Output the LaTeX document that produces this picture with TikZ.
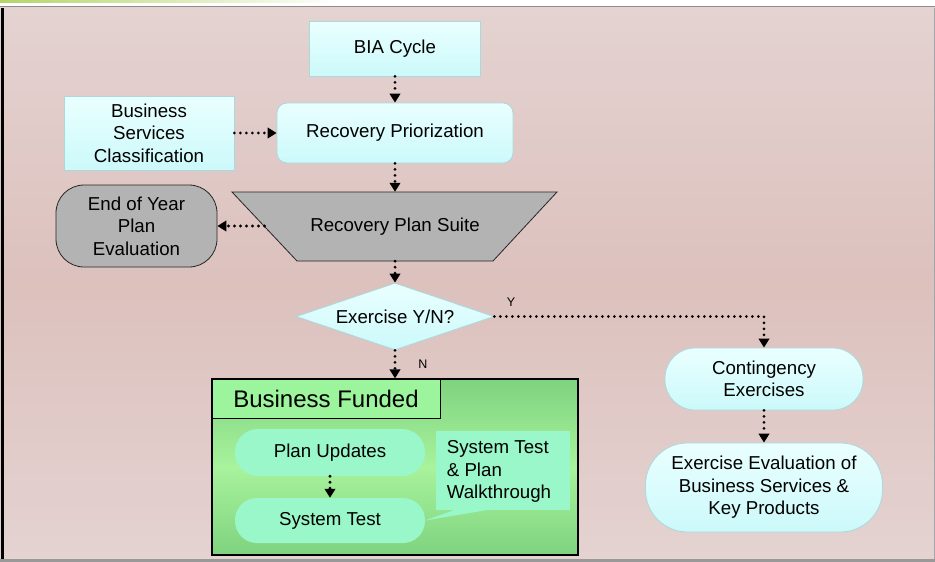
\documentclass[tikz,border=0pt]{standalone}
\usepackage{fontspec}
\setmainfont{Liberation Sans}
\usetikzlibrary{arrows.meta,shapes.geometric,calc}
\definecolor{pinkA}{HTML}{E4D3D1}
\definecolor{pinkB}{HTML}{DCC1BD}
\definecolor{cyantop}{HTML}{EAFFFF}
\definecolor{cyanbot}{HTML}{CCF9FA}
\definecolor{cyanedge}{HTML}{A9D9DD}
\definecolor{grayfill}{HTML}{B3B3B3}
\definecolor{greenA}{HTML}{7FD27F}
\definecolor{greenB}{HTML}{A8F39C}
\definecolor{greenH}{HTML}{9CF59C}
\definecolor{mint}{HTML}{9AF7CA}
\definecolor{topgreen}{HTML}{B5D56A}
\begin{document}
\begin{tikzpicture}[x=1pt,y=-1pt,
  txt/.style={font=\fontsize{18.7}{22.5}\selectfont, align=center, inner sep=0pt},
  small/.style={font=\fontsize{12.5}{14}\selectfont, inner sep=0pt},
  cyanbox/.style={txt, draw=cyanedge, line width=0.8pt, top color=cyantop, bottom color=cyanbot},
  graybox/.style={txt, draw=black!85, line width=0.8pt, fill=grayfill},
  mintbox/.style={txt, fill=mint},
  dotarr/.style={draw=black, line width=3.1pt, dash pattern=on 0pt off 6pt, line cap=round,
    -{Triangle[width=10.5pt,length=9pt]}}
]
\useasboundingbox (0,0) rectangle (935,562);
% frame
\fill[white] (0,0) rectangle (935,562);
\shade[left color=topgreen, right color=white] (0,0) rectangle (340,2.5);
\fill[black!45] (0,6) rectangle (935,7.5);
\shade[top color=pinkA, bottom color=pinkA, middle color=pinkB] (0,7.5) rectangle (935,559);
\fill[black!40] (0,559) rectangle (935,562);
\fill[black] (1,7.5) rectangle (4,559);
\fill[black!35] (933.5,7.5) rectangle (935,559);

% nodes
\node[cyanbox, minimum width=171pt, minimum height=55pt] (bia) at (395,48.5) {BIA Cycle};
\node[cyanbox, minimum width=170pt, minimum height=74pt] (bsc) at (149,133) {Business\\Services\\Classification};
\node[cyanbox, rounded corners=10pt, minimum width=236pt, minimum height=60pt] (rp) at (395,133) {Recovery Priorization};

\draw[black!85, line width=0.8pt, fill=grayfill] (232,192) -- (557,192) -- (493,261) -- (297,261) -- cycle;
\node[txt, minimum height=69pt] (rps) at (395,226.5) {Recovery Plan Suite};
\coordinate (rpsl) at (264.5,226);

\node[graybox, rounded corners=28pt, minimum width=161pt, minimum height=82pt] (eoy) at (136.5,226) {End of Year\\Plan\\Evaluation};

\node[cyanbox, diamond, aspect=2.96, minimum width=198pt, minimum height=67pt] (dia) at (395,316.5) {Exercise Y/N?};

\node[cyanbox, rounded corners=30pt, minimum width=198pt, minimum height=62pt] (cont) at (764,379) {Contingency\\Exercises};
\node[cyanbox, rounded corners=42pt, minimum width=237pt, minimum height=89pt] (ee) at (764,487.5) {Exercise Evaluation of\\Business Services \&\\Key Products};

% business funded
\node[draw=black, line width=1.2pt, top color=greenA, bottom color=greenA, middle color=greenB,
  minimum width=366pt, minimum height=176pt, inner sep=0pt] (bf) at (395,467) {};
\node[draw=black, line width=1pt, fill=greenH, minimum width=228pt, minimum height=39pt,
  font=\fontsize{24}{28}\selectfont, inner sep=0pt] (bfh) at (326,398.5) {Business Funded};
\node[mintbox, rounded corners=23pt, minimum width=190pt, minimum height=47pt] (pu) at (330,452.5) {Plan Updates};
\node[mintbox, rounded corners=22pt, minimum width=190pt, minimum height=45pt] (st) at (330,520.5) {System Test};
\node[fill=mint, minimum width=134pt, minimum height=79pt, inner sep=0pt] (co) at (503,470.5) {};
\fill[mint] (457,509) -- (493,509) -- (st.east) -- cycle;
\node[txt, align=left] (cot) at (499,471.5) {System Test\\\& Plan\\Walkthrough};

% connectors
\draw[dotarr] (bia) -- (rp);
\draw[dotarr] (bsc) -- (rp);
\draw[dotarr] (rp) -- (rps.north);
\draw[dotarr] (rpsl) -- (eoy.east);
\draw[dotarr] (rps.south) -- (dia.north);
\draw[dotarr] (dia.south) -- (bf.north);
\draw[dotarr] (dia.east) -| (cont.north);
\draw[dotarr] (cont) -- (ee);
\draw[dotarr] (pu) -- (st);
\node[small] (ylab) at (511,302) {Y};
\node[small] (nlab) at (423,364) {N};
\end{tikzpicture}
\end{document}
